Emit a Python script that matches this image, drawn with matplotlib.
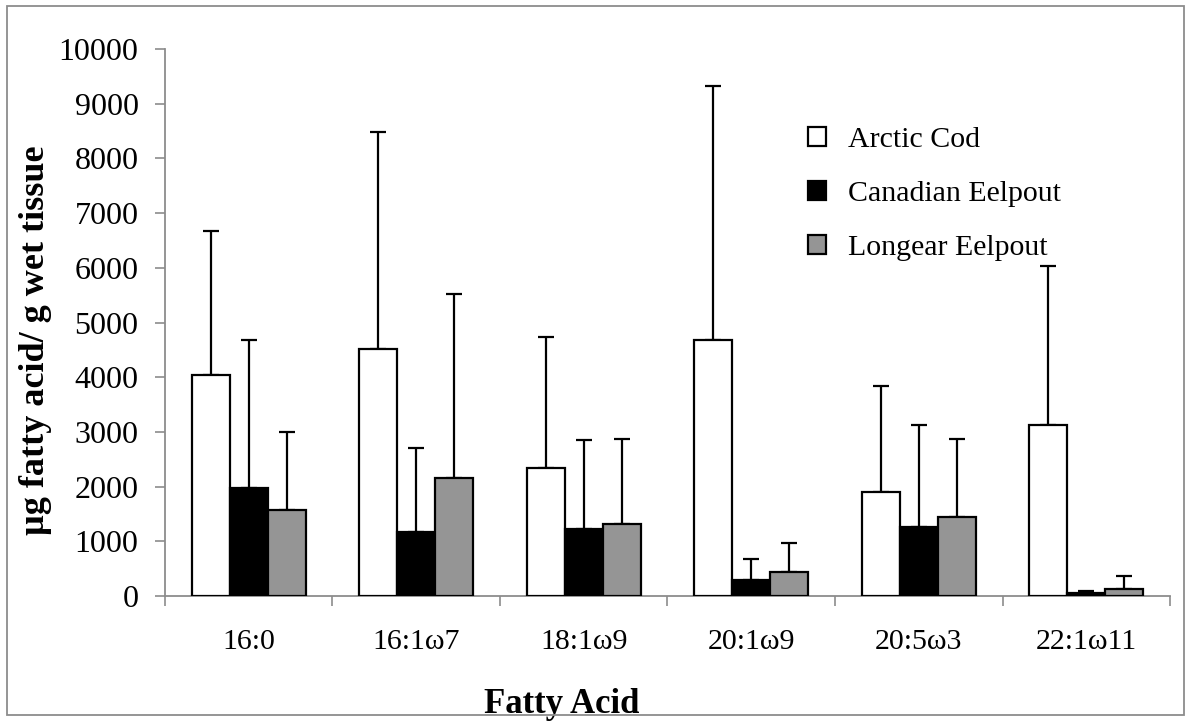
import matplotlib.pyplot as plt
import numpy as np
from matplotlib.patches import Rectangle

# Ácidos grasos y especies
acidos = ['16:0', '16:1ω7', '18:1ω9', '20:1ω9', '20:5ω3', '22:1ω11']
especies = ['Arctic Cod', 'Canadian Eelpout', 'Longear Eelpout']

# Medias (µg/g tejido húmedo)
arctic_cod = [4040, 4515, 2340, 4675, 1910, 3120]
canadian_eelpout = [1975, 1175, 1225, 285, 1255, 50]
longear_eelpout = [1580, 2165, 1310, 445, 1450, 135]

# Desviaciones (solo barra superior)
arctic_cod_sd = [2630, 3975, 2390, 4650, 1925, 2915]
canadian_eelpout_sd = [2710, 1530, 1625, 395, 1865, 42]
longear_eelpout_sd = [1420, 3355, 1555, 530, 1420, 232]

medias = [arctic_cod, canadian_eelpout, longear_eelpout]
desvios = [arctic_cod_sd, canadian_eelpout_sd, longear_eelpout_sd]
colores = ['white', 'black', '#959595']

plt.rcParams['font.family'] = ['Liberation Serif', 'DejaVu Serif']

fig = plt.figure(figsize=(11.91, 7.21), dpi=100)
ax = fig.add_axes([0.1385, 0.1734, 0.8439, 0.7586])

# Marco exterior de la figura
fig.patches.append(Rectangle((0.006, 0.008), 0.988, 0.984, transform=fig.transFigure,
                             fill=False, edgecolor='#8c8c8c', linewidth=1.3))

x = np.arange(len(acidos))
ancho = 0.227
for i, (m, s, c, nombre) in enumerate(zip(medias, desvios, colores, especies)):
    pos = x + (i - 1) * ancho
    ax.bar(pos, m, width=ancho, color=c, edgecolor='black', linewidth=1.6,
           label=nombre, zorder=3)
    ax.errorbar(pos, m, yerr=[np.zeros(len(m)), s], fmt='none', ecolor='black',
                elinewidth=1.6, capsize=6, capthick=1.6, zorder=2)

ax.set_xlim(-0.5, len(acidos) - 0.5)
ax.set_ylim(0, 10000)
ax.set_yticks(np.arange(0, 10001, 1000))
ax.set_xticks(x)
ax.set_xticklabels(acidos, fontsize=21.5)
ax.set_xticks(np.arange(-0.5, len(acidos)), minor=True)
ax.tick_params(axis='x', which='major', length=0, pad=24)
ax.tick_params(axis='x', which='minor', length=7, width=1.2, color='#8c8c8c')
ax.tick_params(axis='y', length=7, width=1.2, color='#8c8c8c', labelsize=23, pad=12)

for lado in ['top', 'right']:
    ax.spines[lado].set_visible(False)
for lado in ['left', 'bottom']:
    ax.spines[lado].set_color('#8c8c8c')
    ax.spines[lado].set_linewidth(1.3)

ax.set_xlabel('Fatty Acid', fontsize=25, fontweight='bold')
ax.xaxis.set_label_coords(0.395, -0.168)
ax.set_ylabel('µg fatty acid/ g wet tissue', fontsize=26, fontweight='bold')
ax.yaxis.set_label_coords(-0.112, 0.468)

ax.legend(loc='upper left', bbox_to_anchor=(0.6685, 0.841), bbox_transform=fig.transFigure,
          frameon=False, fontsize=21.5, handlelength=0.6, handleheight=0.6,
          handletextpad=0.75, labelspacing=0.95, borderaxespad=0)

plt.savefig('out.png', dpi=100)
